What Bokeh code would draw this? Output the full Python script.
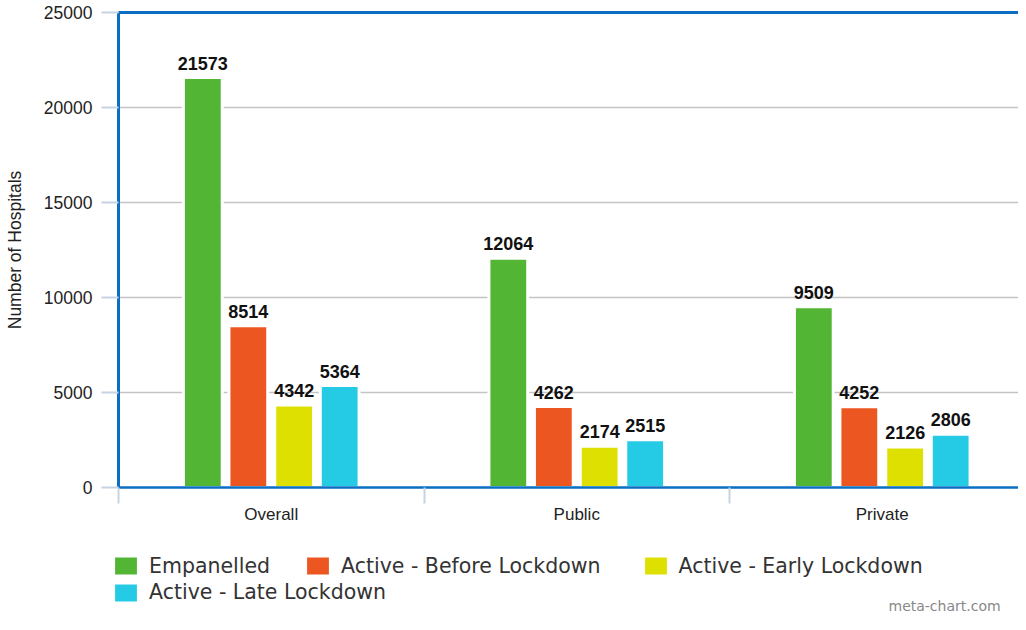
from bokeh.plotting import figure
from bokeh.models import (ColumnDataSource, FixedTicker, Range1d, LabelSet, Label,
                          Legend, LegendItem)
from bokeh.embed import file_html
from bokeh.resources import INLINE
from bokeh.core.properties import value

# ---------------- data ----------------
categories = ["Overall", "Public", "Private"]
series_names = ["Empanelled", "Active - Before Lockdown", "Active - Early Lockdown", "Active - Late Lockdown"]
empanelled = [21573, 12064, 9509]
active_before = [8514, 4262, 4252]
active_early = [4342, 2174, 2126]
active_late = [5364, 2515, 2806]
y_ticks = [0, 5000, 10000, 15000, 20000, 25000]
y_axis_title = "Number of Hospitals"
watermark = "meta-chart.com"

# ---------------- layout / style ----------------
W, H = 1018, 614                 # canvas (pixels)
frame_left, frame_top, frame_bottom = 118, 12, 487   # plot area in canvas pixels
cat_px = 305.5                   # pixels per category
y_max = y_ticks[-1]
px_per_unit = (frame_bottom - frame_top) / y_max

x_start = -frame_left / cat_px
x_end = (W - frame_left) / cat_px
y_end = y_max + frame_top / px_per_unit
y_start = -(H - frame_bottom) / px_per_unit

colors = ["#53b534", "#ec5620", "#dde000", "#25cbe4"]
blue = "#0a6fc2"
tick_col = "#c5d3e3"
grid_col = "#c4c4c4"
offsets = [-0.224, -0.075, 0.075, 0.224]
bar_w = 0.127
font = "Liberation Sans"

series_values = [empanelled, active_before, active_early, active_late]

p = figure(width=W, height=H, output_backend="svg", toolbar_location=None,
           x_range=Range1d(x_start, x_end), y_range=Range1d(y_start, y_end),
           min_border=0, min_border_left=0, min_border_right=0, min_border_top=0, min_border_bottom=0)
p.outline_line_color = None
p.background_fill_color = "white"
p.border_fill_color = "white"
p.grid.visible = False

# horizontal grid lines (only across the plot area)
grid_y = y_ticks[1:]
p.segment(x0=[0] * len(grid_y), x1=[x_end] * len(grid_y), y0=grid_y, y1=grid_y,
          line_color=grid_col, line_width=1.5)

# bars + value labels
bar_renderers = []
for i, (name, vals) in enumerate(zip(series_names, series_values)):
    xs = [k + 0.5 + offsets[i] for k in range(len(categories))]
    src = ColumnDataSource(dict(x=xs, top=vals, lab=[str(v) for v in vals]))
    r = p.vbar(x="x", top="top", width=bar_w, bottom=0, source=src,
               fill_color=colors[i], line_color="white", line_width=3)
    bar_renderers.append(r)
    p.add_layout(LabelSet(x="x", y="top", text="lab", source=src, text_align="center",
                          text_baseline="bottom", y_offset=8, text_font=value(font),
                          text_font_style="bold", text_font_size="18px", text_color="#111111"))

# top border of the plot area
p.segment(x0=[0], x1=[x_end], y0=[y_max], y1=[y_max], line_color=blue, line_width=3)

# y axis (fixed inside the canvas)
ya = p.yaxis[0]
ya.fixed_location = 0
ya.bounds = (0, y_max)
ya.ticker = FixedTicker(ticks=y_ticks)
ya.axis_line_color = blue
ya.axis_line_width = 3
ya.major_tick_out = 17
ya.major_tick_in = 0
ya.major_tick_line_color = tick_col
ya.major_tick_line_width = 2
ya.minor_tick_line_color = None
ya.major_label_standoff = 9
ya.major_label_text_font = font
ya.major_label_text_font_size = "17.5px"
ya.major_label_text_color = "#222222"
ya.axis_label = y_axis_title
ya.axis_label_text_font = font
ya.axis_label_text_font_size = "17.5px"
ya.axis_label_text_font_style = "normal"
ya.axis_label_text_color = "#222222"
ya.axis_label_standoff = 16

# x axis (fixed at y = 0)
xa = p.xaxis[0]
xa.fixed_location = 0
xa.bounds = (0, x_end)
centers = [k + 0.5 for k in range(len(categories))]
xa.ticker = FixedTicker(ticks=centers, minor_ticks=[k for k in range(len(categories) + 1)])
xa.major_label_overrides = {c: lab for c, lab in zip(centers, categories)}
xa.axis_line_color = blue
xa.axis_line_width = 2.5
xa.major_tick_line_color = None
xa.major_tick_out = 0
xa.major_tick_in = 0
xa.minor_tick_line_color = tick_col
xa.minor_tick_line_width = 2
xa.minor_tick_out = 16
xa.minor_tick_in = 0
xa.major_label_standoff = 1
xa.major_label_text_font = font
xa.major_label_text_font_size = "17px"
xa.major_label_text_color = "#222222"

# ---------------- legend (single-item legends placed like the reference) ----------------
leg_pos = [(110, 36), (302, 36), (639.5, 36), (110, 9.5)]
for i, name in enumerate(series_names):
    lg = Legend(items=[LegendItem(label=name, renderers=[bar_renderers[i]])], location=leg_pos[i],
                glyph_width=31, glyph_height=25, label_height=24, label_standoff=8,
                padding=0, margin=0, spacing=0, border_line_color=None,
                background_fill_alpha=0, label_text_font="DejaVu Sans",
                label_text_font_size="20.5px", label_text_color="#333333")
    p.add_layout(lg)

p.add_layout(Label(x=888, y=1, x_units="screen", y_units="screen", text=watermark,
                   text_font="DejaVu Sans", text_font_size="14px",
                   text_color="#888888", text_baseline="bottom"))

open("out.html", "w").write(file_html(p, INLINE))
